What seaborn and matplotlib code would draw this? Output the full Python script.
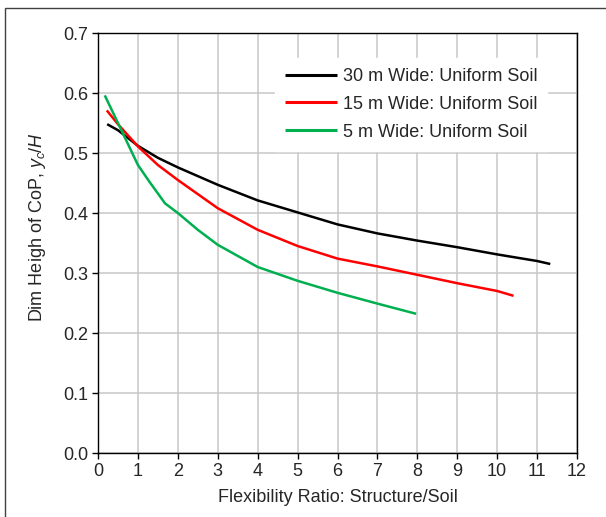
import matplotlib
matplotlib.use("Agg")
import matplotlib.pyplot as plt
from matplotlib.patches import Rectangle
import pandas as pd
import seaborn as sns

# Dimensionless height of centre of pressure vs flexibility ratio
x_30 = [0.23, 0.5, 1, 1.5, 2, 3, 4, 5, 6, 7, 8, 9, 10, 11, 11.33]
y_30 = [0.548, 0.538, 0.512, 0.492, 0.476, 0.447, 0.421, 0.401, 0.381, 0.366, 0.354, 0.343, 0.331, 0.320, 0.315]

x_15 = [0.22, 0.5, 1, 1.5, 2, 3, 4, 5, 6, 7, 8, 9, 10, 10.41]
y_15 = [0.571, 0.548, 0.511, 0.480, 0.455, 0.408, 0.372, 0.345, 0.324, 0.311, 0.297, 0.283, 0.270, 0.262]

x_5 = [0.17, 0.5, 1, 1.3, 1.68, 2, 2.5, 3, 4, 5, 6, 7, 7.97]
y_5 = [0.596, 0.550, 0.480, 0.451, 0.416, 0.400, 0.372, 0.347, 0.310, 0.287, 0.267, 0.249, 0.232]

labels = ["30 m Wide: Uniform Soil", "15 m Wide: Uniform Soil", "5 m Wide: Uniform Soil"]
colors = ["#000000", "#ff0000", "#00b050"]

frames = []
for lab, xs, ys in zip(labels, [x_30, x_15, x_5], [y_30, y_15, y_5]):
    frames.append(pd.DataFrame({"x": xs, "y": ys, "series": lab}))
df = pd.concat(frames, ignore_index=True)

sns.set_style("white")
plt.rcParams["font.family"] = ["Liberation Sans", "DejaVu Sans"]
plt.rcParams["mathtext.fontset"] = "custom"
plt.rcParams["mathtext.rm"] = "Liberation Sans"
plt.rcParams["mathtext.it"] = "Liberation Sans:italic"

FS = 13

fig = plt.figure(figsize=(6.06, 5.17), dpi=100)
ax = fig.add_axes([98 / 606, 1 - 453 / 517, 479 / 606, 420 / 517])

sns.lineplot(data=df, x="x", y="y", hue="series", palette=dict(zip(labels, colors)),
             hue_order=labels, sort=False, estimator=None, linewidth=1.8, ax=ax)
for ln in ax.get_lines():
    ln.set_solid_joinstyle("round")
    ln.set_solid_capstyle("butt")

ax.set_xlim(0, 12)
ax.set_ylim(0, 0.7)
ax.set_xticks(range(0, 13))
ax.set_yticks([i / 10 for i in range(0, 8)])
ax.set_yticklabels([f"{i / 10:.1f}" for i in range(0, 8)])
ax.grid(True, color="#c8c8c8", linewidth=1.1)
ax.set_axisbelow(True)
for sp in ax.spines.values():
    sp.set_color("black")
    sp.set_linewidth(1.0)
ax.tick_params(axis="both", direction="out", length=4, width=1, color="black",
               labelsize=FS, pad=3, bottom=True, left=True)

ax.set_xlabel("Flexibility Ratio: Structure/Soil", fontsize=FS, labelpad=7)
ax.set_ylabel(r"Dim Heigh of CoP, $\mathit{y_c}$/$\mathit{H}$", fontsize=FS)
ax.yaxis.set_label_coords((48 - 98) / 479, (453 - 227) / 420)

leg = ax.legend(loc="upper left", bbox_to_anchor=((275 - 98) / 479, (453 - 58) / 420),
                frameon=True, fontsize=FS, handlelength=2.9, handletextpad=0.3,
                labelspacing=0.6, borderaxespad=0, borderpad=0.55, fancybox=False)
leg.get_frame().set_facecolor("white")
leg.get_frame().set_edgecolor("white")
leg.get_frame().set_alpha(1.0)
for line in leg.get_lines():
    line.set_linewidth(2.2)

# outer chart-area frame
fig.patches.append(Rectangle((5 / 606, -0.1), 2.0, 1.1 - 8 / 517,
                             transform=fig.transFigure, fill=False,
                             edgecolor="#404040", linewidth=1.0))

fig.savefig("out.png", dpi=100)
